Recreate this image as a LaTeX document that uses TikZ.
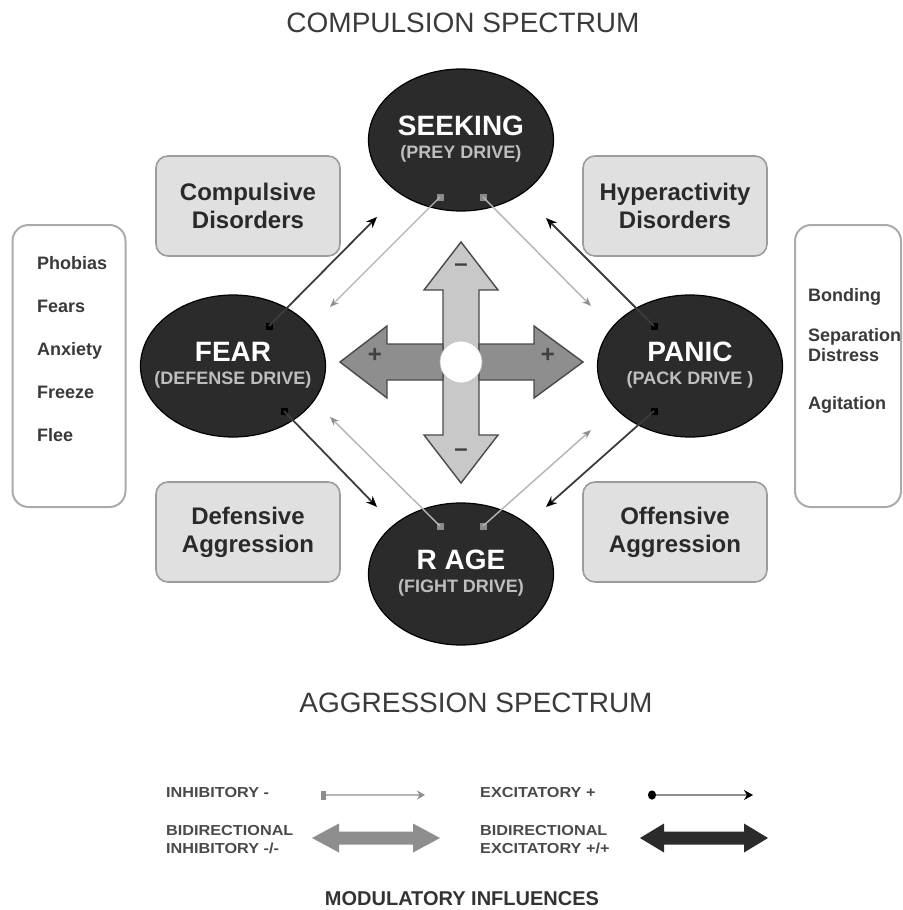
\documentclass[tikz,border=0pt]{standalone}
\usepackage{fontspec}
\setmainfont{Liberation Sans}
\usetikzlibrary{shapes.geometric,arrows.meta}
\definecolor{ellfill}{HTML}{2B2B2B}
\definecolor{subc}{HTML}{BEBEBE}
\definecolor{boxfill}{HTML}{E0E0E0}
\definecolor{boxline}{HTML}{9C9C9C}
\definecolor{boxtext}{HTML}{2A2A2A}
\definecolor{sideline}{HTML}{ABABAB}
\definecolor{sidetxt}{HTML}{3A3A3A}
\definecolor{excline}{HTML}{3C3C3C}
\definecolor{inhline}{HTML}{B4B4B4}
\definecolor{inhtip}{HTML}{8E8E8E}
\definecolor{insqc}{HTML}{8A8A8A}
\definecolor{titlec}{HTML}{3B3B3B}
\definecolor{legc}{HTML}{4A4A4A}
\definecolor{vfill}{HTML}{C8C8C8}
\definecolor{hfill}{HTML}{8E8E8E}
\definecolor{crossline}{HTML}{4A4A4A}
\newcommand{\legwide}[1]{\scalebox{1.12}[1]{#1}}
\newcommand{\drivetext}[2]{{\fontsize{28}{23}\selectfont #1}\\{\color{subc}#2\rule[-6pt]{0pt}{0pt}}}
\begin{document}
\begin{tikzpicture}[x=1pt,y=-1pt,
  drive/.style={ellipse, draw=black, line width=1.2pt, fill=ellfill, minimum width=185pt, minimum height=142pt, inner xsep=-40pt, inner ysep=-10pt, align=center, text=white, font=\bfseries\fontsize{18}{23}\selectfont},
  catbox/.style={rectangle, rounded corners=12pt, draw=boxline, line width=1.6pt, fill=boxfill, minimum width=184pt, minimum height=100pt, align=center, text=boxtext, font=\bfseries\fontsize{24}{28}\selectfont},
  sidebox/.style={rectangle, rounded corners=16pt, draw=sideline, line width=2pt, fill=white, minimum width=113pt, minimum height=282pt},
  sidetext/.style={align=left, inner sep=0pt, text=sidetxt, font=\bfseries\fontsize{18}{43}\selectfont},
  exsq/.style={rectangle, fill=black, minimum size=7pt, inner sep=0pt},
  insq/.style={rectangle, fill=insqc, minimum size=7pt, inner sep=0pt},
  exc/.style={draw=excline, line width=1.8pt, -{Stealth[length=11pt,width=9pt,color=black]}},
  inh/.style={draw=inhline, line width=1.4pt, -{Stealth[length=9pt,width=7pt,color=inhtip]}},
  titletext/.style={text=titlec, font=\fontsize{28}{32}\selectfont, inner sep=0pt},
  legtext/.style={text=legc, font=\bfseries\fontsize{14.5}{18}\selectfont, align=left, inner sep=0pt},
  signtext/.style={text=black!75, font=\bfseries\fontsize{24}{24}\selectfont, inner sep=0pt},
]
\useasboundingbox[fill=white] (0,0) rectangle (902,910);

% titles
\node[titletext] (ttop) at (463,23) {COMPULSION SPECTRUM};
\node[titletext] (tbot) at (476,703) {AGGRESSION SPECTRUM};

% side boxes
\node[sidebox] (lbox) at (69,366) {};
\node[sidetext, anchor=north west] (ltext) at (37,256) {Phobias\\Fears\\Anxiety\\Freeze\\Flee};
\node[sidebox, minimum width=106pt] (rbox) at (848,366) {};
\node[sidetext, anchor=north west, font=\bfseries\fontsize{18}{20}\selectfont] (rtext) at (808,288) {Bonding\\[20pt]Separation\\Distress\\[28pt]Agitation};

% category boxes
\node[catbox] (comp) at (248,206) {Compulsive\\Disorders};
\node[catbox] (hyper) at (675,206) {Hyperactivity\\Disorders};
\node[catbox] (defag) at (248,532) {Defensive\\Aggression};
\node[catbox] (offag) at (675,532) {Offensive\\Aggression};

% central cross
\draw[fill=vfill, draw=crossline, line width=1.4pt, line join=miter]
  (461,242) -- (498,290) -- (479,290) -- (479,435) -- (498,435) -- (461,483)
  -- (424,435) -- (443,435) -- (443,290) -- (424,290) -- cycle;
\draw[fill=hfill, draw=crossline, line width=1.4pt, line join=miter]
  (340,362) -- (387,326) -- (387,344) -- (443,344) -- (443,380) -- (387,380) -- (387,398) -- cycle;
\draw[fill=hfill, draw=crossline, line width=1.4pt, line join=miter]
  (583,362) -- (534,326) -- (534,344) -- (479,344) -- (479,380) -- (534,380) -- (534,398) -- cycle;
\node[circle, fill=white, draw=black!25, line width=0.6pt, minimum size=42pt, inner sep=0pt] (hub) at (461,362) {};
\node[signtext] (mtop) at (461,268) {\textendash};
\node[signtext] (mbot) at (461,453) {\textendash};
\node[signtext] (pleft) at (375,355) {+};
\node[signtext] (pright) at (548,355) {+};

% drive ellipses
\node[drive] (seek) at (461,140) {\drivetext{SEEKING}{(PREY DRIVE)}};
\node[drive] (fear) at (233,366) {\drivetext{FEAR}{(DEFENSE DRIVE)}};
\node[drive] (panic) at (690,366) {\drivetext{PANIC}{(PACK DRIVE )}};
\node[drive] (rage) at (461,574) {\drivetext{R AGE}{(FIGHT DRIVE)}};

% connector end points
\node[exsq] (fa) at (269,326) {};
\node[exsq] (fb) at (284,411) {};
\node[exsq] (pa) at (654,326) {};
\node[exsq] (pb) at (654,411) {};
\node[insq] (sa) at (440,197) {};
\node[insq] (sb) at (483,197) {};
\node[insq] (ra) at (440,526) {};
\node[insq] (rb) at (483,526) {};
\coordinate (toSeekL) at (377,217);
\coordinate (toSeekR) at (546,218);
\coordinate (toFearU) at (330,307);
\coordinate (toFearD) at (330,417);
\coordinate (toPanicU) at (591,306);
\coordinate (toPanicD) at (591,430);
\coordinate (toRageL) at (377,507);
\coordinate (toRageR) at (546,507);

\draw[exc] (fa.center) -- (toSeekL);
\draw[exc] (pa.center) -- (toSeekR);
\draw[exc] (fb.center) -- (toRageL);
\draw[exc] (pb.center) -- (toRageR);
\draw[inh] (sa.center) -- (toFearU);
\draw[inh] (sb.center) -- (toPanicU);
\draw[inh] (ra.center) -- (toFearD);
\draw[inh] (rb.center) -- (toPanicD);

% legend
\node[legtext, anchor=base west] (l1) at (166,797) {\legwide{INHIBITORY -}};
\node[legtext, anchor=base west] (l2) at (480,797) {\legwide{EXCITATORY +}};
\node[legtext, anchor=west] (l3) at (166,840) {\legwide{BIDIRECTIONAL}\\\legwide{INHIBITORY -/-}};
\node[legtext, anchor=west] (l4) at (480,840) {\legwide{BIDIRECTIONAL}\\\legwide{EXCITATORY +/+}};
\coordinate (li1) at (321,795);
\coordinate (li2) at (425,795);
\coordinate (le1) at (648,795);
\coordinate (le2) at (753,795);
\draw[draw=inhline, line width=2.2pt, {Square[length=5pt,width=9pt,color=inhtip]}-{Stealth[length=8pt,width=9pt,color=inhtip]}] (li1) -- (li2);
\draw[draw=hfill, line width=2.2pt, {Circle[length=8pt,width=9pt,color=black]}-{Stealth[length=9pt,width=10pt,color=black]}] (le1) -- (le2);
\fill[hfill] (312,838) -- (339,823.5) -- (339,831.5) -- (413,831.5) -- (413,823.5) -- (440,838)
  -- (413,852.5) -- (413,844.5) -- (339,844.5) -- (339,852.5) -- cycle;
\fill[ellfill] (640,838) -- (664,823.5) -- (664,831.5) -- (744,831.5) -- (744,823.5) -- (768,838)
  -- (744,852.5) -- (744,844.5) -- (664,844.5) -- (664,852.5) -- cycle;
\node[text=black!80, font=\bfseries\fontsize{20}{22}\selectfont, inner sep=0pt] (mod) at (462,899) {MODULATORY INFLUENCES};
\end{tikzpicture}
\end{document}
